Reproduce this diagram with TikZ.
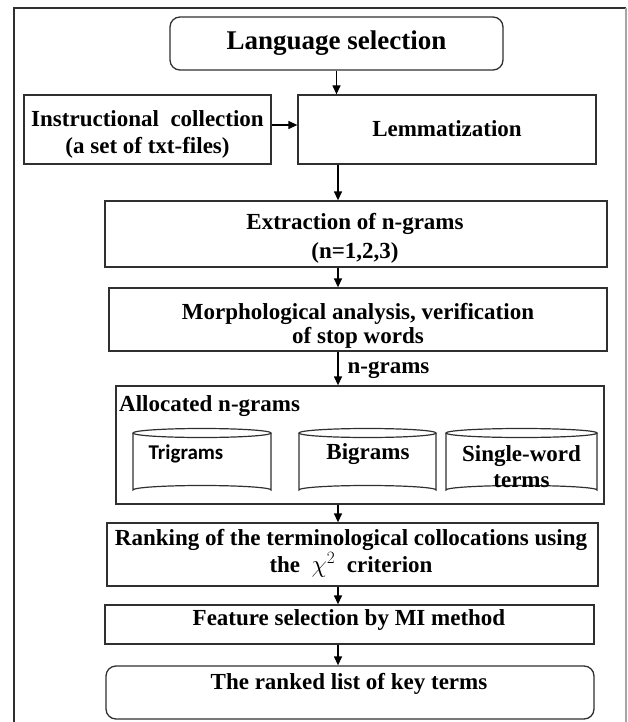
\documentclass[tikz,border=0pt]{standalone}
\usepackage{fontspec}
\setmainfont{Liberation Serif}
\newfontfamily\calfont{Carlito}
\usetikzlibrary{arrows.meta}
\definecolor{edge}{HTML}{303030}
\tikzset{
  box/.style={draw=edge, line width=1.3pt, inner sep=0pt, fill=white},
  rbox/.style={box, rounded corners=10pt},
  lbl/.style={inner sep=0pt, align=center, font=\bfseries\fontsize{23}{27}\selectfont},
  arr/.style={draw=black, line width=1.3pt, -{Triangle[length=9pt,width=8pt]}},
  cyl/.style={draw=edge, line width=1.2pt}
}
\begin{document}
\begin{tikzpicture}[x=1pt,y=-1pt]
\useasboundingbox (0,0) rectangle (627,722);
% frame
\draw[line width=2pt, draw=edge] (14,722) -- (14,8) -- (626,8);
\draw[line width=1.2pt, draw=black!35] (626,8) -- (626,722);

% boxes
\node[rbox, minimum width=333pt, minimum height=53pt] (lang) at (336.5,43.5) {};
\node[box, minimum width=247pt, minimum height=69pt] (inst) at (147.5,129.5) {};
\node[box, minimum width=298pt, minimum height=69pt] (lemma) at (447,129.5) {};
\node[box, minimum width=502pt, minimum height=66pt] (ext) at (356,234) {};
\node[box, minimum width=498pt, minimum height=63pt] (morph) at (358,319.5) {};
\node[box, minimum width=488pt, minimum height=118pt] (alloc) at (360,445) {};
\node[box, minimum width=491pt, minimum height=63pt] (rank) at (352.5,554.5) {};
\node[box, minimum width=489pt, minimum height=39pt] (feat) at (349.5,624.5) {};
\node[rbox, minimum width=488pt, minimum height=53pt] (ranked) at (350,692.5) {};

% labels
\node[lbl, font=\bfseries\fontsize{27}{30}\selectfont] (tlang) at (336.5,43) {Language selection};
\node[lbl] (tinst) at (147.5,134) {Instructional\ \ collection\\(a set of txt-files)};
\node[lbl] (tlemma) at (447,129) {Lemmatization};
\node[lbl, font=\bfseries\fontsize{23}{29}\selectfont] (text) at (355,238.5) {Extraction of n-grams\\(n=1,2,3)};
\node[lbl, font=\bfseries\fontsize{23}{24}\selectfont] (tmorph) at (358,326) {Morphological analysis, verification\\of stop words};
\node[lbl, anchor=west] (talloc) at (119,406) {Allocated n-grams};
\node[lbl] (trank) at (351,553.5) {Ranking of the terminological collocations using\\the \ $\chi^2$\ \ criterion};
\node[lbl] (tfeat) at (349,619.5) {Feature selection by MI method};
\node[lbl] (tranked) at (349,684) {The ranked list of key terms};

% cylinders
\foreach \nm/\cx/\w in {tri/202/138, big/367.5/137, sgl/521.5/151}{
  \pgfmathsetmacro{\rx}{\w/2}
  \draw[cyl, fill=white] (\cx-\rx,433) -- (\cx-\rx,490) arc[start angle=180, end angle=360, x radius=\rx, y radius=4.5] -- (\cx+\rx,433);
  \draw[cyl] (\cx,433) ellipse[x radius=\rx, y radius=4.5];
  \coordinate (\nm) at (\cx,461);
}
\node[lbl, font=\calfont\bfseries\fontsize{21}{24}\selectfont] (ttri) at (186,454) {Trigrams};
\node[lbl] (tbig) at (368,454) {Bigrams};
\node[lbl, font=\bfseries\fontsize{23}{26}\selectfont] (tsgl) at (521.5,467) {Single-word\\terms};

% arrows
\coordinate (ax) at (338,0);
\draw[arr] (lang.south) -- (lang.south |- lemma.north);
\draw[arr] (inst.east |- 0,125) -- (lemma.west |- 0,125);
\draw[arr] (ax |- lemma.south) -- (ax |- ext.north);
\draw[arr] (ax |- ext.south) -- (ax |- morph.north);
\draw[arr] (ax |- morph.south) -- node[lbl, anchor=west, xshift=9pt, yshift=-2pt] (tng) {n-grams} (ax |- alloc.north);
\draw[arr] (ax |- alloc.south) -- (ax |- rank.north);
\draw[arr] (ax |- rank.south) -- (ax |- feat.north);
\draw[arr] (ax |- feat.south) -- (ax |- ranked.north);
\end{tikzpicture}
\end{document}
